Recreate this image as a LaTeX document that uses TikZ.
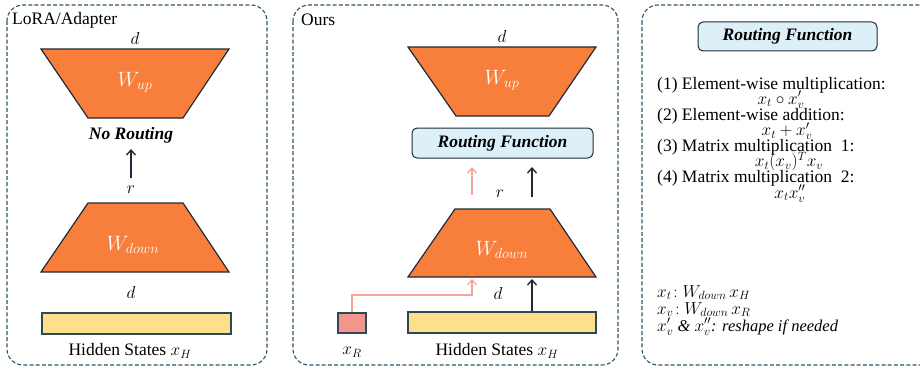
\documentclass[tikz,border=0pt]{standalone}
\usepackage{fontspec}
\setmainfont{Liberation Serif}
\usetikzlibrary{arrows.meta}
\definecolor{frame}{HTML}{2E5568}
\definecolor{orng}{HTML}{F77F3B}
\definecolor{edge}{HTML}{1E2B36}
\definecolor{ylw}{HTML}{FFE08A}
\definecolor{ylwedge}{HTML}{2C4A55}
\definecolor{lblue}{HTML}{DDF0F8}
\definecolor{pinkbox}{HTML}{F4958C}
\definecolor{pinkarr}{HTML}{F5A39B}
\tikzset{
  panel/.style={draw=frame, line width=1.1pt, dash pattern=on 4pt off 2.2pt, rounded corners=16pt},
  trap/.style={fill=orng, draw=edge, line width=1.2pt},
  wlabel/.style={text=white, font=\fontsize{20}{20}\selectfont},
  mlabel/.style={font=\fontsize{17.5}{17.5}\selectfont, inner sep=0pt},
  txt/.style={font=\fontsize{17.5}{18}\selectfont, inner sep=0pt},
  small/.style={font=\fontsize{16.5}{17}\selectfont, inner sep=0pt},
  hidden/.style={fill=ylw, draw=ylwedge, line width=1.2pt},
  rbox/.style={fill=lblue, draw=edge, line width=1pt, rounded corners=5pt},
  rtext/.style={font=\fontsize{17.5}{17.5}\selectfont\bfseries\itshape, inner sep=0pt},
  blackarr/.style={draw=edge, line width=1.4pt, -{Straight Barb[length=5pt,width=9pt]}},
  pinkarrow/.style={draw=pinkarr, line width=1.4pt, -{Straight Barb[length=5pt,width=9pt]}},
  pinkline/.style={draw=pinkarr, line width=1.2pt, -{Straight Barb[length=5pt,width=9pt]}},
}
\begin{document}
\begin{tikzpicture}[x=1pt,y=-1pt]
\useasboundingbox (0,0) rectangle (920,369);
\clip (0,0) rectangle (920,369);
% ---------------- Panel 1 ----------------
\draw[panel] (7,5) rectangle (267,365);
\node[txt, anchor=west] (t1) at (12,20) {LoRA/Adapter};
\node[mlabel] (d1) at (135,39) {$d$};
\draw[trap] (41,49) -- (229,49) -- (183,118) -- (88,118) -- cycle;
\node[wlabel] (wup1) at (135,82) {$W_{up}$};
\node[rtext] (nr) at (131,135) {No Routing};
\coordinate (a1s) at (131,178);
\coordinate (a1e) at (131,149);
\draw[blackarr] (a1s) -- (a1e);
\node[mlabel] (r1) at (131,190) {$r$};
\draw[trap] (88,203) -- (183,203) -- (229,272) -- (41,272) -- cycle;
\node[wlabel] (wd1) at (133,245) {$W_{down}$};
\node[mlabel] (d2) at (131,292) {$d$};
\node[hidden, minimum width=189pt, minimum height=21pt, inner sep=0pt] (h1) at (136.5,323.5) {};
\node[txt] (hs1) at (130,351) {Hidden States $x_H$};
% ---------------- Panel 2 ----------------
\draw[panel] (293,5) rectangle (618,365);
\node[txt, anchor=west] (t2) at (301,20) {Ours};
\node[mlabel] (d3) at (502,37) {$d$};
\draw[trap] (408,47) -- (596,47) -- (549,116) -- (456,116) -- cycle;
\node[wlabel] (wup2) at (502,80) {$W_{up}$};
\node[rbox, minimum width=181pt, minimum height=30pt, inner sep=0pt] (rf) at (502.5,143) {};
\node[rtext] at (rf) {Routing Function};
\node[mlabel] (r2) at (500,194) {$r$};
\coordinate (pa) at (472,195);
\coordinate (pe) at (472,167);
\coordinate (ba) at (532,197);
\coordinate (be) at (532,167);
\draw[pinkarrow] (pa) -- (pe);
\draw[blackarr] (ba) -- (be);
\draw[trap] (455,209) -- (550,209) -- (596,277) -- (408,277) -- cycle;
\node[wlabel] (wd2) at (502,250) {$W_{down}$};
\node[mlabel] (d4) at (498,293) {$d$};
\node[hidden, minimum width=188pt, minimum height=21pt, inner sep=0pt] (h2) at (502,322.5) {};
\node[fill=pinkbox, draw=ylwedge, line width=1.2pt, minimum width=28pt, minimum height=20pt, inner sep=0pt] (xr) at (352,323) {};
\coordinate (bend) at (472,295);
\coordinate (pt) at (472,279);
\coordinate (bt) at (532,279);
\draw[pinkline] (xr.north) |- (bend) -- (pt);
\draw[blackarr] (h2.north -| ba) -- (bt);
\node[mlabel] (xrl) at (352,352) {$x_R$};
\node[txt] (hs2) at (497,351) {Hidden States $x_H$};
% ---------------- Panel 3 ----------------
\draw[panel] (642,5) rectangle (935,365);
\node[rbox, minimum width=179pt, minimum height=29pt, inner sep=0pt] (rf2) at (787.5,36.5) {};
\node[rtext] at (rf2) {Routing Function};
\node[txt, anchor=base west] (l1) at (657,89) {(1) Element-wise multiplication:};
\node[mlabel, anchor=base] (e1) at (781,104) {$x_t \circ x_v'$};
\node[txt, anchor=base west] (l2) at (657,120) {(2) Element-wise addition:};
\node[mlabel, anchor=base] (e2) at (787,135.5) {$x_t + x_v'$};
\node[txt, anchor=base west] (l3) at (657,151) {(3) Matrix multiplication\ \ 1:};
\node[mlabel, anchor=base] (e3) at (789,166.5) {$x_t(x_v)^T x_v$};
\node[txt, anchor=base west] (l4) at (657,182) {(4) Matrix multiplication\ \ 2:};
\node[mlabel, anchor=base] (e4) at (790,198) {$x_t x_v''$};
\node[small, anchor=base west] (n1) at (657,297) {$x_t\!: W_{down}\, x_H$};
\node[small, anchor=base west] (n2) at (657,314) {$x_v\!: W_{down}\, x_R$};
\node[small, anchor=base west] (n3) at (657,331) {\itshape $x_v'$ \& $x_v''$: reshape if needed};
\end{tikzpicture}
\end{document}
